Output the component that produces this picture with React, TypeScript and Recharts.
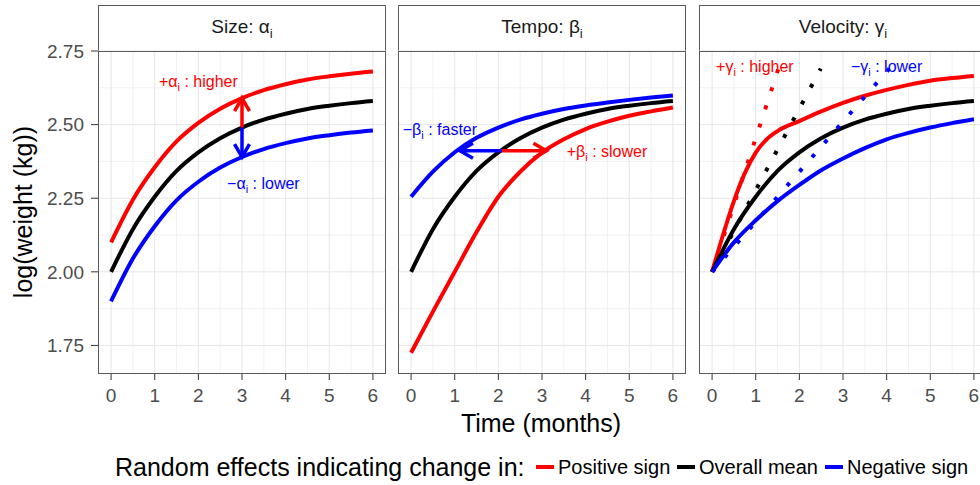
import React from "react";
import {
  Line,
  LineChart,
  ReferenceDot,
  ReferenceLine,
  XAxis,
  YAxis,
} from "recharts";

type Pt = { t: number; v: number };

const halfMonths = [0, 0.5, 1, 1.5, 2, 2.5, 3, 3.5, 4, 4.5, 5, 5.5, 6];
const finerMonths = [0, 0.25, 0.5, 0.75, 1, 1.25, 1.5, 2, 2.5, 3, 3.5, 4, 4.5, 5, 5.5, 6];

// log(weight)
const overallMean = [2.0, 2.145, 2.255, 2.343, 2.406, 2.454, 2.49, 2.517, 2.537, 2.553, 2.564, 2.573, 2.58];
const sizeHigher = [2.1, 2.245, 2.355, 2.443, 2.506, 2.554, 2.59, 2.617, 2.637, 2.653, 2.664, 2.673, 2.68];
const sizeLower = [1.9, 2.045, 2.155, 2.243, 2.306, 2.354, 2.39, 2.417, 2.437, 2.453, 2.464, 2.473, 2.48];
const tempoSlower = [1.725, 1.865, 2.0, 2.135, 2.255, 2.34, 2.405, 2.45, 2.485, 2.51, 2.53, 2.545, 2.558];
const tempoFaster = [2.255, 2.34, 2.406, 2.455, 2.49, 2.517, 2.537, 2.553, 2.565, 2.575, 2.584, 2.592, 2.599];
const velocityHigher = [2.0, 2.125, 2.24, 2.335, 2.405, 2.45, 2.478, 2.512, 2.545, 2.574, 2.598, 2.618, 2.635, 2.649, 2.658, 2.665];
const velocityLower = [2.0, 2.1, 2.175, 2.24, 2.295, 2.345, 2.385, 2.42, 2.45, 2.472, 2.49, 2.505, 2.518];

// initial slopes (dotted)
const slopeHigherT = [0, 1.52];
const slopeMeanT = [0, 2.49];
const slopeLowerT = [0, 4.06];
const slopeV = [2.0, 2.69];

const xTicks = [0, 1, 2, 3, 4, 5, 6];
const xMinor = [0.5, 1.5, 2.5, 3.5, 4.5, 5.5];
const yTicks = [1.75, 2.0, 2.25, 2.5, 2.75];
const yMinor = [1.875, 2.125, 2.375, 2.625];

const RED = "#ff0000";
const BLUE = "#0000ff";
const BLACK = "#000000";

const zip = (ts: number[], vs: number[]): Pt[] => ts.map((t, i) => ({ t, v: vs[i] }));

type Series = { data: Pt[]; color: string; dotted?: boolean };
type Arrow = { from: [number, number]; to: [number, number]; color: string };
type Note = { t: number; v: number; sign: string; greek: string; word: string; color: string };

const PLOT_W = 288;
const PLOT_H = 323;
const PLOT_TOP = 51;
const PAD_TOP = 12;
const BORDER = "#5a5a5a";

function arrowShape(color: string) {
  return (p: any) => {
    const { x1, y1, x2, y2 } = p;
    const ang = Math.atan2(y2 - y1, x2 - x1);
    const len = 15;
    const spread = Math.PI / 6;
    const a1 = ang + Math.PI - spread;
    const a2 = ang + Math.PI + spread;
    const pts = `${x2 + len * Math.cos(a1)},${y2 + len * Math.sin(a1)} ${x2},${y2} ${x2 + len * Math.cos(a2)},${y2 + len * Math.sin(a2)}`;
    return (
      <g>
        <line x1={x1} y1={y1} x2={x2} y2={y2} stroke={color} strokeWidth={3.5} />
        <polyline points={pts} fill="none" stroke={color} strokeWidth={3.5} />
      </g>
    );
  };
}

function noteShape(n: Note) {
  return (p: any) => (
    <text x={p.cx} y={p.cy} fill={n.color} fontSize={16} textAnchor="middle">
      <tspan>{n.sign}</tspan>
      <tspan>{n.greek}</tspan>
      <tspan fontSize={11} dy={4}>i</tspan>
      <tspan dy={-4}>{" : " + n.word}</tspan>
    </text>
  );
}

function Panel({
  left,
  showY,
  name,
  greek,
  series,
  arrows = [],
  notes = [],
}: {
  left: number;
  showY: boolean;
  name: string;
  greek: string;
  series: Series[];
  arrows?: Arrow[];
  notes?: Note[];
}) {
  const yw = showY ? 98 : 0;
  return (
    <>
      <div
        style={{
          position: "absolute",
          left,
          top: 5,
          width: PLOT_W,
          height: PLOT_TOP - 5 + 1,
          boxSizing: "border-box",
          border: `1px solid ${BORDER}`,
          background: "#fff",
          display: "flex",
          alignItems: "center",
          justifyContent: "center",
          fontSize: 19,
          color: "#1a1a1a",
        }}
      >
        <span>
          {name}: {greek}
          <sub style={{ fontSize: 13 }}>i</sub>
        </span>
      </div>
      <div style={{ position: "absolute", left: left - yw, top: PLOT_TOP - PAD_TOP }}>
        <LineChart
          width={PLOT_W + yw}
          height={PLOT_H + PAD_TOP + 45}
          margin={{ top: PAD_TOP, right: 0, bottom: 0, left: 0 }}
        >
          <XAxis
            dataKey="t"
            type="number"
            domain={[-0.3, 6.3]}
            ticks={xTicks}
            interval={0}
            allowDataOverflow
            axisLine={false}
            tickLine={{ stroke: "#333" }}
            tickSize={6}
            tickMargin={9}
            tick={{ fill: "#4d4d4d", fontSize: 19 }}
            height={45}
          />
          <YAxis
            type="number"
            domain={[1.653, 2.75]}
            ticks={yTicks}
            interval={0}
            allowDataOverflow
            hide={!showY}
            width={yw}
            axisLine={false}
            tickLine={{ stroke: "#333" }}
            tickSize={7}
            tickMargin={7}
            tick={{ fill: "#4d4d4d", fontSize: 19 }}
            tickFormatter={(v: number) => v.toFixed(2)}
          />
          {xMinor.map((v) => (
            <ReferenceLine key={"xm" + v} x={v} stroke="#f2f2f2" strokeWidth={1} />
          ))}
          {yMinor.map((v) => (
            <ReferenceLine key={"ym" + v} y={v} stroke="#f2f2f2" strokeWidth={1} />
          ))}
          {xTicks.map((v) => (
            <ReferenceLine key={"xg" + v} x={v} stroke="#e6e6e6" strokeWidth={1} />
          ))}
          {yTicks.map((v) => (
            <ReferenceLine key={"yg" + v} y={v} stroke="#e6e6e6" strokeWidth={1} />
          ))}
          {series.map((s, i) => (
            <Line
              key={i}
              data={s.data}
              dataKey="v"
              type={s.dotted ? "linear" : "monotone"}
              stroke={s.color}
              strokeWidth={4}
              strokeDasharray={s.dotted ? "4 15" : undefined}
              dot={false}
              activeDot={false}
              isAnimationActive={false}
            />
          ))}
          {arrows.map((a, i) => (
            <ReferenceLine
              key={"a" + i}
              segment={[
                { x: a.from[0], y: a.from[1] },
                { x: a.to[0], y: a.to[1] },
              ]}
              ifOverflow="visible"
              shape={arrowShape(a.color)}
            />
          ))}
          {notes.map((n, i) => (
            <ReferenceDot key={"n" + i} x={n.t} y={n.v} r={0} ifOverflow="visible" shape={noteShape(n)} />
          ))}
        </LineChart>
      </div>
      <div
        style={{
          position: "absolute",
          left,
          top: PLOT_TOP,
          width: PLOT_W,
          height: PLOT_H,
          boxSizing: "border-box",
          border: `1px solid ${BORDER}`,
          pointerEvents: "none",
        }}
      />
    </>
  );
}

export default function App() {
  return (
    <div
      style={{
        position: "absolute",
        left: 0,
        top: 0,
        width: 980,
        height: 485,
        overflow: "hidden",
        background: "#fff",
        fontFamily: '"Liberation Sans", Arial, sans-serif',
      }}
    >
      <Panel
        left={98}
        showY
        name="Size"
        greek="α"
        series={[
          { data: zip(halfMonths, sizeHigher), color: RED },
          { data: zip(halfMonths, overallMean), color: BLACK },
          { data: zip(halfMonths, sizeLower), color: BLUE },
        ]}
        arrows={[
          { from: [3, 2.49], to: [3, 2.59], color: RED },
          { from: [3, 2.49], to: [3, 2.39], color: BLUE },
        ]}
        notes={[
          { t: 2.0, v: 2.627, sign: "+", greek: "α", word: "higher", color: RED },
          { t: 3.49, v: 2.281, sign: "−", greek: "α", word: "lower", color: BLUE },
        ]}
      />
      <Panel
        left={398}
        showY={false}
        name="Tempo"
        greek="β"
        series={[
          { data: zip(halfMonths, tempoSlower), color: RED },
          { data: zip(halfMonths, overallMean), color: BLACK },
          { data: zip(halfMonths, tempoFaster), color: BLUE },
        ]}
        arrows={[
          { from: [2.08, 2.411], to: [1.12, 2.411], color: BLUE },
          { from: [2.08, 2.411], to: [3.1, 2.411], color: RED },
        ]}
        notes={[
          { t: 0.66, v: 2.464, sign: "−", greek: "β", word: "faster", color: BLUE },
          { t: 4.49, v: 2.39, sign: "+", greek: "β", word: "slower", color: RED },
        ]}
      />
      <Panel
        left={699}
        showY={false}
        name="Velocity"
        greek="γ"
        series={[
          { data: zip(finerMonths, velocityHigher), color: RED },
          { data: zip(halfMonths, overallMean), color: BLACK },
          { data: zip(halfMonths, velocityLower), color: BLUE },
          { data: zip(slopeHigherT, slopeV), color: RED, dotted: true },
          { data: zip(slopeMeanT, slopeV), color: BLACK, dotted: true },
          { data: zip(slopeLowerT, slopeV), color: BLUE, dotted: true },
        ]}
        notes={[
          { t: 0.98, v: 2.678, sign: "+", greek: "γ", word: "higher", color: RED },
          { t: 4.0, v: 2.678, sign: "−", greek: "γ", word: "lower", color: BLUE },
        ]}
      />
      <svg width={980} height={485} style={{ position: "absolute", left: 0, top: 0, pointerEvents: "none" }}>
        <text x={0} y={0} transform="translate(32,212) rotate(-90)" textAnchor="middle" fontSize={25} fill="#000">
          log(weight (kg))
        </text>
        <text x={541} y={432} textAnchor="middle" fontSize={25} fill="#000">
          Time (months)
        </text>
        <text x={115} y={476} fontSize={25} fill="#000">
          Random effects indicating change in:
        </text>
        <line x1={536} x2={554} y1={467} y2={467} stroke={RED} strokeWidth={4} />
        <text x={558} y={474} fontSize={20} fill="#000">Positive sign</text>
        <line x1={677} x2={695} y1={467} y2={467} stroke={BLACK} strokeWidth={4} />
        <text x={699} y={474} fontSize={20} fill="#000">Overall mean</text>
        <line x1={825} x2={843} y1={467} y2={467} stroke={BLUE} strokeWidth={4} />
        <text x={847} y={474} fontSize={20} fill="#000">Negative sign</text>
      </svg>
    </div>
  );
}
